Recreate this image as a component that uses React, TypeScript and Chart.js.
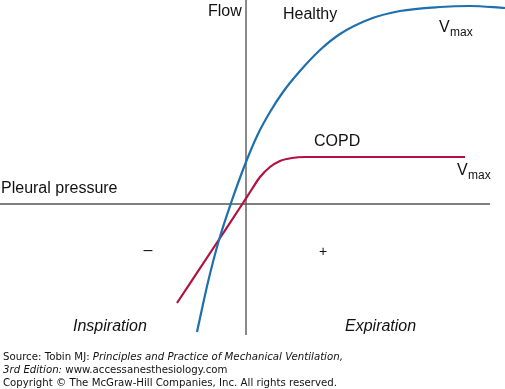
import React, { useEffect, useRef } from "react";
import { Chart, registerables } from "chart.js";

Chart.register(...registerables);

// Pleural pressure (x) vs Flow (y), arbitrary units
const healthyPressure = [-4.9, -3.8, -2.7, -1.5, 0.0, 1.2, 2.4, 3.7, 5.4, 7.4, 9.4, 12.4, 15.4, 19.4, 22.4, 25.9];
const healthyFlow = [-12.8, -7.8, -3.6, 0.1, 4.2, 7.0, 9.2, 11.2, 13.3, 15.4, 17.0, 18.5, 19.3, 19.7, 19.8, 19.6];

const copdPressure = [-6.9, -2.6, -0.3, 0.6, 1.4, 2.4, 3.4, 4.6, 5.9, 21.9];
const copdFlow = [-9.9, -3.4, 0.1, 1.5, 2.7, 3.7, 4.3, 4.6, 4.7, 4.7];

const xRange = [-24.6, 25.9];
const yRange = [-18.5, 20.4];
const axisExtentX = [-24.6, 24.4];
const axisExtentY = [-13.1, 20.4];

const seriesNames = ["Healthy", "COPD"];

const toPoints = (xs: number[], ys: number[]) => xs.map((x, i) => ({ x, y: ys[i] }));

const BLUE = "#1d6fae";
const RED = "#b3113f";

const annotationPlugin = {
  id: "annotations",
  beforeDatasetsDraw(chart: any) {
    const { ctx, scales } = chart;
    const xs = scales.x;
    const ys = scales.y;
    ctx.save();
    // vertical axis (Flow)
    ctx.strokeStyle = "#8a8a8a";
    ctx.lineWidth = 2;
    ctx.beginPath();
    ctx.moveTo(xs.getPixelForValue(0), ys.getPixelForValue(axisExtentY[1]));
    ctx.lineTo(xs.getPixelForValue(0), ys.getPixelForValue(axisExtentY[0]));
    ctx.stroke();
    // horizontal axis (Pleural pressure)
    ctx.strokeStyle = "#555555";
    ctx.lineWidth = 1.5;
    ctx.beginPath();
    ctx.moveTo(xs.getPixelForValue(axisExtentX[0]), ys.getPixelForValue(0));
    ctx.lineTo(xs.getPixelForValue(axisExtentX[1]), ys.getPixelForValue(0));
    ctx.stroke();
    ctx.restore();
  },
  afterDatasetsDraw(chart: any) {
    const { ctx } = chart;
    ctx.save();
    ctx.fillStyle = "#111111";
    ctx.textBaseline = "alphabetic";
    ctx.textAlign = "left";
    const f = "16px 'Liberation Sans', Arial, sans-serif";
    const fi = "italic 16px 'Liberation Sans', Arial, sans-serif";
    const fs = "12px 'Liberation Sans', Arial, sans-serif";
    ctx.font = f;
    ctx.fillText("Flow", 208, 16);
    ctx.fillText(seriesNames[0], 283, 19);
    ctx.fillText(seriesNames[1], 314, 146);
    ctx.fillText("Pleural pressure", 1, 193);
    ctx.fillText("V", 439, 32);
    ctx.fillText("V", 457, 175);
    ctx.font = fs;
    ctx.fillText("max", 450, 36);
    ctx.fillText("max", 468, 179);
    ctx.font = f;
    ctx.textAlign = "center";
    ctx.fillText("\u2013", 148, 255);
    ctx.font = "14px 'Liberation Sans', Arial, sans-serif";
    ctx.fillText("+", 323, 256);
    ctx.textAlign = "left";
    ctx.font = fi;
    ctx.fillText("Inspiration", 73, 331);
    ctx.fillText("Expiration", 345, 331);
    ctx.restore();
  },
};

export default function App() {
  const ref = useRef<HTMLCanvasElement | null>(null);

  useEffect(() => {
    if (!ref.current) return;
    const chart = new Chart(ref.current, {
      type: "scatter",
      data: {
        datasets: [
          {
            label: seriesNames[0],
            data: toPoints(healthyPressure, healthyFlow),
            showLine: true,
            borderColor: BLUE,
            borderWidth: 2.2,
            pointRadius: 0,
            cubicInterpolationMode: "monotone",
            fill: false,
          },
          {
            label: seriesNames[1],
            data: toPoints(copdPressure, copdFlow),
            showLine: true,
            borderColor: RED,
            borderWidth: 2.2,
            pointRadius: 0,
            cubicInterpolationMode: "monotone",
            fill: false,
          },
        ],
      },
      options: {
        animation: false,
        responsive: false,
        devicePixelRatio: 1,
        layout: { padding: 0 },
        plugins: {
          legend: { display: false },
          tooltip: { enabled: false },
          title: { display: false },
        },
        scales: {
          x: { type: "linear", min: xRange[0], max: xRange[1], display: false },
          y: { type: "linear", min: yRange[0], max: yRange[1], display: false },
        },
      },
      plugins: [annotationPlugin],
    } as any);
    return () => chart.destroy();
  }, []);

  const footStyle: React.CSSProperties = {
    position: "absolute",
    left: 3,
    fontFamily: "'DejaVu Sans', Verdana, sans-serif",
    fontSize: 10.2,
    lineHeight: "13px",
    color: "#111",
    whiteSpace: "nowrap",
    margin: 0,
  };

  return (
    <div style={{ position: "absolute", left: 0, top: 0, width: 505, height: 389, background: "#fff" }}>
      <canvas ref={ref} width={505} height={389} style={{ position: "absolute", left: 0, top: 0, width: 505, height: 389 }} />
      <div style={{ ...footStyle, top: 350 }}>
        Source: Tobin MJ: <i>Principles and Practice of Mechanical Ventilation,</i>
      </div>
      <div style={{ ...footStyle, top: 362.5 }}>
        <i>3rd Edition:</i> www.accessanesthesiology.com
      </div>
      <div style={{ ...footStyle, top: 375.5 }}>
        Copyright © The McGraw-Hill Companies, Inc. All rights reserved.
      </div>
    </div>
  );
}
